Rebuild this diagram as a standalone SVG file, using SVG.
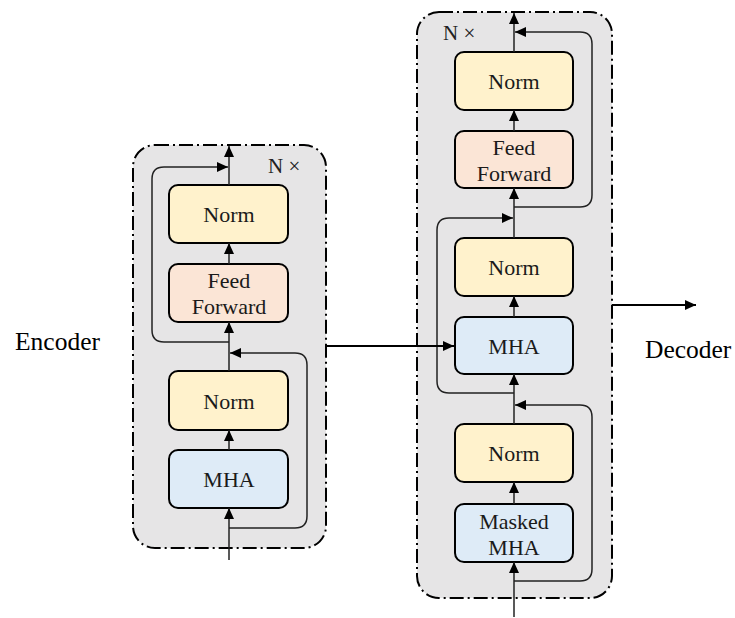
<svg xmlns="http://www.w3.org/2000/svg" width="735" height="618" viewBox="0 0 735 618">
<defs>
<marker id="ah" markerUnits="userSpaceOnUse" markerWidth="12" markerHeight="10" refX="11" refY="5" orient="auto">
<path d="M0,0 L11,5 L0,10 z" fill="#000"/>
</marker>
<style>
.cont{fill:#e6e5e6;stroke:#000;stroke-width:2;stroke-dasharray:14 4 2 4}
.box{stroke:#000;stroke-width:2}
.norm{fill:#fff2cc}
.ff{fill:#fbe5d6}
.mha{fill:#deebf7}
.t{font-family:"Liberation Serif","DejaVu Serif",serif;font-size:22px;fill:#1a1a1a;text-anchor:middle}
.lbl{font-family:"Liberation Serif","DejaVu Serif",serif;font-size:25.5px;fill:#000}
.nx{font-family:"Liberation Serif","DejaVu Serif",serif;font-size:21px;fill:#222}
.c{fill:none;stroke:#222;stroke-width:1.5}
.cb{fill:none;stroke:#000;stroke-width:2}
</style>
</defs>
<rect width="735" height="618" fill="#fff"/>
<g id="encoder">
<rect class="cont" x="133" y="145" width="193" height="403" rx="22"/>
<text class="nx" x="268" y="173">N ×</text>
</g>
<g id="decoder">
<rect class="cont" x="417" y="12" width="195" height="586" rx="22"/>
<text class="nx" x="443" y="40">N ×</text>
</g>
<g id="enc-norm2"><rect class="box norm" x="169" y="185" width="119" height="58" rx="9"/><text class="t" x="229" y="222">Norm</text></g>
<g id="enc-ff"><rect class="box ff" x="169" y="264" width="119" height="58" rx="9"/><text class="t" x="229" y="288">Feed</text><text class="t" x="229" y="314">Forward</text></g>
<g id="enc-norm1"><rect class="box norm" x="169" y="371" width="119" height="59" rx="9"/><text class="t" x="229" y="409">Norm</text></g>
<g id="enc-mha"><rect class="box mha" x="169" y="450" width="119" height="58" rx="9"/><text class="t" x="229" y="487">MHA</text></g>
<g id="dec-norm3"><rect class="box norm" x="455" y="52" width="118" height="58" rx="9"/><text class="t" x="514" y="89">Norm</text></g>
<g id="dec-ff"><rect class="box ff" x="455" y="131" width="118" height="57" rx="9"/><text class="t" x="514" y="155">Feed</text><text class="t" x="514" y="181">Forward</text></g>
<g id="dec-norm2"><rect class="box norm" x="455" y="238" width="118" height="58" rx="9"/><text class="t" x="514" y="275">Norm</text></g>
<g id="dec-mha"><rect class="box mha" x="455" y="317" width="118" height="57" rx="9"/><text class="t" x="514" y="354">MHA</text></g>
<g id="dec-norm1"><rect class="box norm" x="455" y="424" width="118" height="58" rx="9"/><text class="t" x="514" y="461">Norm</text></g>
<g id="dec-mmha"><rect class="box mha" x="455" y="504" width="118" height="58" rx="9"/><text class="t" x="514" y="529">Masked</text><text class="t" x="514" y="555">MHA</text></g>
<g id="labels">
<text class="lbl" x="15" y="350">Encoder</text>
<text class="lbl" x="645" y="358">Decoder</text>
</g>
<g id="connectors">
<path class="c" d="M229,560 V508" marker-end="url(#ah)"/>
<path class="c" d="M229,450 V430" marker-end="url(#ah)"/>
<path class="c" d="M229,371 V322" marker-end="url(#ah)"/>
<path class="c" d="M229,264 V243" marker-end="url(#ah)"/>
<path class="c" d="M229,185 V146" marker-end="url(#ah)"/>
<path class="c" d="M229,528 H295 Q307,528 307,516 V365 Q307,353 295,353 H230" marker-end="url(#ah)"/>
<path class="c" d="M229,342 H164 Q152,342 152,330 V179 Q152,167 164,167 H228" marker-end="url(#ah)"/>
<path class="c" d="M514,617 V562" marker-end="url(#ah)"/>
<path class="c" d="M514,504 V482" marker-end="url(#ah)"/>
<path class="c" d="M514,424 V374" marker-end="url(#ah)"/>
<path class="c" d="M514,317 V296" marker-end="url(#ah)"/>
<path class="c" d="M514,238 V188" marker-end="url(#ah)"/>
<path class="c" d="M514,131 V110" marker-end="url(#ah)"/>
<path class="c" d="M514,52 V13" marker-end="url(#ah)"/>
<path class="c" d="M514,581 H580 Q592,581 592,569 V417 Q592,405 580,405 H515" marker-end="url(#ah)"/>
<path class="c" d="M514,393 H449 Q437,393 437,381 V230 Q437,218 449,218 H513" marker-end="url(#ah)"/>
<path class="c" d="M514,207 H580 Q592,207 592,195 V44 Q592,32 580,32 H515" marker-end="url(#ah)"/>
<path class="cb" d="M327,346 H454" marker-end="url(#ah)"/>
<path class="cb" d="M612,305 H696" marker-end="url(#ah)"/>
</g>
</svg>
